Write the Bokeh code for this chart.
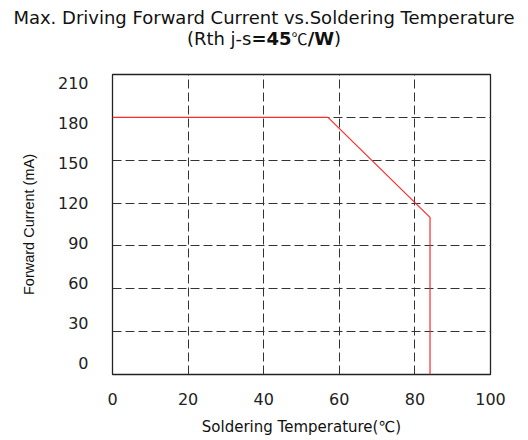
from bokeh.plotting import figure
from bokeh.models import (Div, LinearAxis, Range1d, SingleIntervalTicker)
from bokeh.layouts import column
from bokeh.embed import file_html
from bokeh.resources import INLINE

# Derating curve: maximum forward current against soldering-point temperature
temperature_c = [0, 57, 84, 84]
current_ma = [180, 180, 110, 0]

x_ticks = [0, 20, 40, 60, 80, 100]
y_ticks = [0, 30, 60, 90, 120, 150, 180, 210]

title_line1 = "Max. Driving Forward Current vs.Soldering Temperature"
title_line2 = ('(Rth j-s<b>=45</b><span style="font-family:\'Noto Sans CJK SC\';'
               'font-size:16px">℃</span><b>/W</b>)')
x_label = "Soldering Temperature(℃)"
y_label = "Forward Current (mA)"

HEAD_H = 60

heading = Div(text=f"{title_line1}<br>{title_line2}", width=528, height=HEAD_H,
              margin=(0, 0, 0, 0),
              styles={"font-family": "DejaVu Sans", "font-size": "18px",
                      "line-height": "21px", "text-align": "center",
                      "color": "#111111", "padding-top": "7px",
                      "width": "528px", "white-space": "nowrap"})

p = figure(width=528, height=440 - HEAD_H, x_range=Range1d(0, 100), y_range=Range1d(0, 210),
           output_backend="svg", toolbar_location=None,
           min_border_left=112, min_border_right=38,
           min_border_top=74 - HEAD_H, min_border_bottom=66,
           background_fill_color="white", border_fill_color="white")

p.outline_line_color = "#222222"
p.outline_line_width = 1.3

# grid lines
p.xgrid.ticker = SingleIntervalTicker(interval=20)
p.ygrid.ticker = SingleIntervalTicker(interval=30)
for g in (p.xgrid, p.ygrid):
    g.grid_line_color = "#333333"
    g.grid_line_dash = "9 4"
    g.grid_line_width = 1

tick_font = "DejaVu Sans"

# x axis
xa = p.xaxis[0]
xa.ticker = SingleIntervalTicker(interval=20)
xa.axis_line_color = None
xa.major_tick_line_color = None
xa.minor_tick_line_color = None
xa.major_tick_in = 0
xa.major_tick_out = 0
xa.major_label_standoff = 14
xa.major_label_text_font = tick_font
xa.major_label_text_font_size = "16px"
xa.major_label_text_color = "#222222"
xa.axis_label = x_label
xa.axis_label_text_font = "DejaVu Sans"
xa.axis_label_text_font_size = "15px"
xa.axis_label_text_font_style = "normal"
xa.axis_label_text_color = "#111111"
xa.axis_label_standoff = 10

# main y axis only drives the grid; labels come from a slightly offset axis
p.yaxis[0].visible = False
p.extra_y_ranges = {"lbl": Range1d(-9, 216)}
ya = LinearAxis(y_range_name="lbl", ticker=SingleIntervalTicker(interval=30))
ya.axis_line_color = None
ya.major_tick_line_color = None
ya.minor_tick_line_color = None
ya.major_tick_in = 0
ya.major_tick_out = 0
ya.major_label_standoff = 20
ya.major_label_text_font = tick_font
ya.major_label_text_font_size = "16px"
ya.major_label_text_color = "#222222"
ya.axis_label = y_label
ya.axis_label_text_font = "Liberation Sans"
ya.axis_label_text_font_size = "14.5px"
ya.axis_label_text_font_style = "normal"
ya.axis_label_text_color = "#111111"
ya.axis_label_standoff = 18
p.add_layout(ya, "left")

p.line(temperature_c, current_ma, line_color="#ff2a2a", line_width=1.2)

layout = column(heading, p, spacing=0)
open("out.html", "w").write(file_html(layout, INLINE))
